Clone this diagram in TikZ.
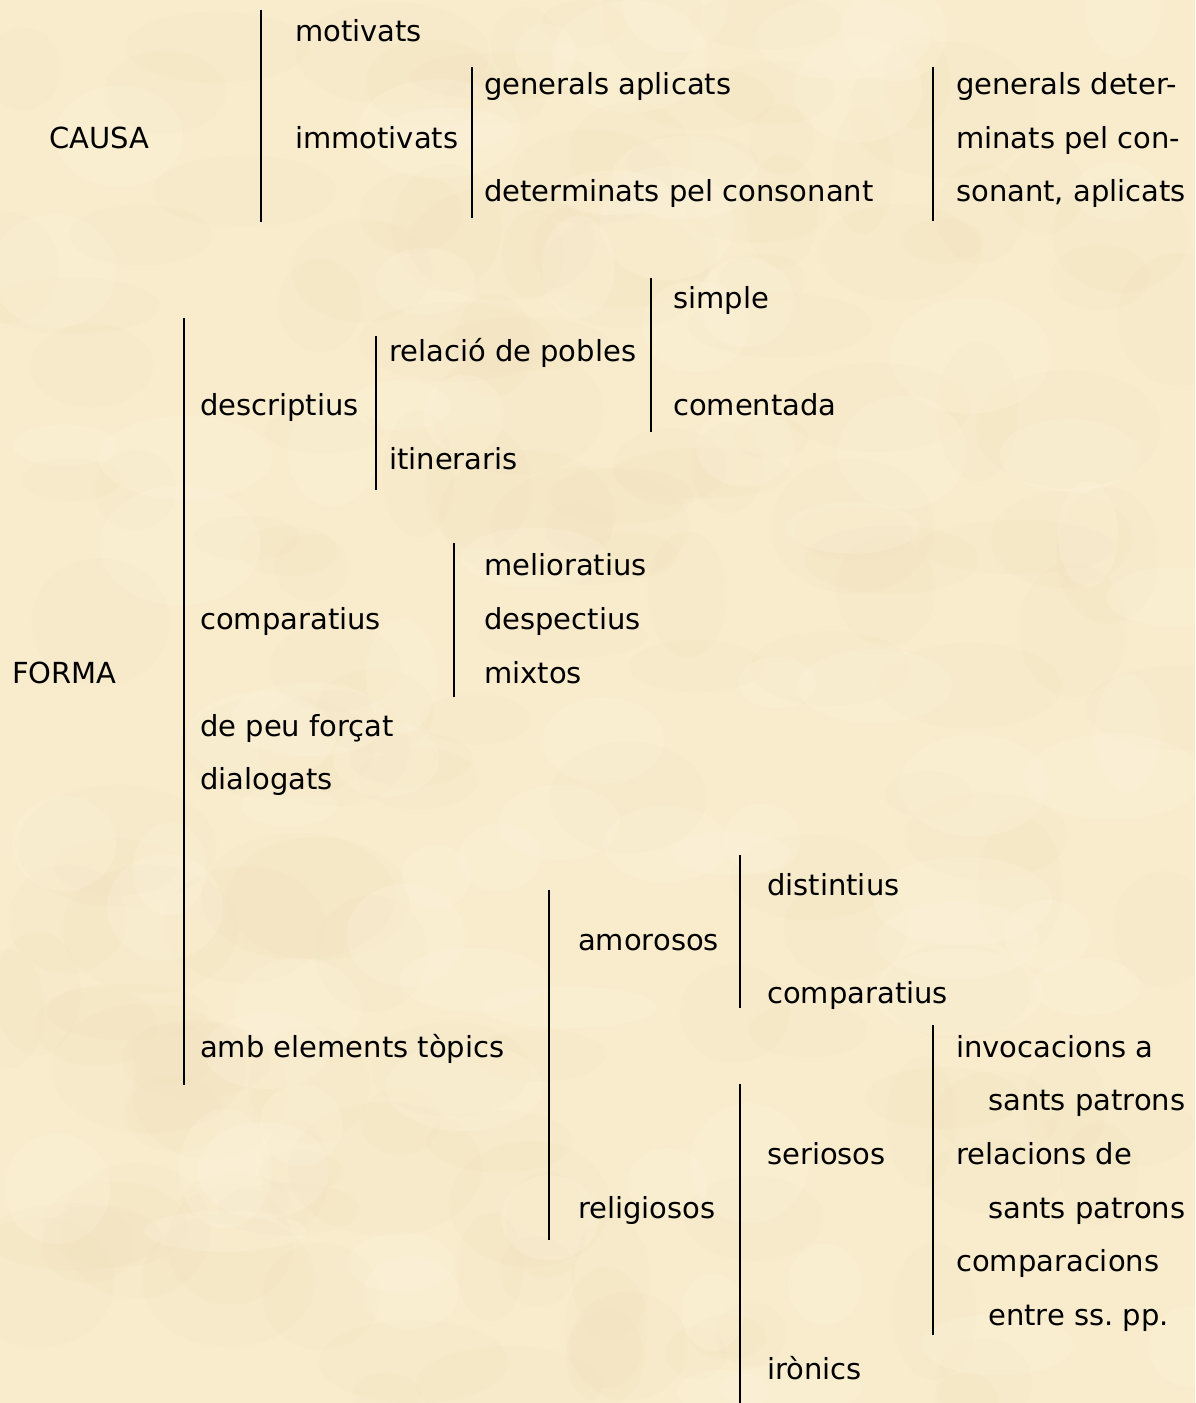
\documentclass[tikz,border=0pt]{standalone}
\usepackage{fontspec}
\setmainfont{DejaVu Sans}
\frenchspacing
\definecolor{parch}{RGB}{249,236,205}
\definecolor{parchdark}{RGB}{238,222,186}
\definecolor{parchlight}{RGB}{253,244,222}
\begin{document}
\begin{tikzpicture}[x=1pt,y=-1pt,
  lbl/.style={anchor=base west, inner sep=0pt, font=\fontsize{29}{35}\selectfont},
  brk/.style={line width=2pt, black}]
\useasboundingbox (0,0) rectangle (1195,1403);
\fill[parch] (0,0) rectangle (1195,1403);
% subtle parchment mottling
\begin{scope}
\clip (0,0) rectangle (1195,1403);
\pgfmathsetseed{7}
\foreach \n in {1,...,160} {
  \pgfmathsetmacro{\px}{rnd*1195}
  \pgfmathsetmacro{\py}{rnd*1403}
  \pgfmathsetmacro{\rw}{30+rnd*70}
  \pgfmathsetmacro{\rh}{20+rnd*50}
  \fill[parchdark, opacity=0.14] (\px,\py) ellipse ({\rw pt} and {\rh pt});
}
\foreach \n in {1,...,80} {
  \pgfmathsetmacro{\px}{rnd*1195}
  \pgfmathsetmacro{\py}{rnd*1403}
  \pgfmathsetmacro{\rw}{30+rnd*60}
  \pgfmathsetmacro{\rh}{20+rnd*40}
  \fill[parchlight, opacity=0.25] (\px,\py) ellipse ({\rw pt} and {\rh pt});
}
\end{scope}
% labels (baseline = visual centre + 10)
\node[lbl] (causa) at (49,148) {CAUSA};
\node[lbl] (motiv) at (295,41) {motivats};
\node[lbl] (immot) at (295,148) {immotivats};
\node[lbl] (genap) at (484,94) {generals aplicats};
\node[lbl] (detcon) at (484,201) {determinats pel consonant};
\node[lbl] (gd1) at (956,94) {generals deter-};
\node[lbl] (gd2) at (956,148) {minats pel con-};
\node[lbl] (gd3) at (956,201) {sonant, aplicats};

\node[lbl] (forma) at (12,683) {FORMA};
\node[lbl] (descr) at (200,415) {descriptius};
\node[lbl] (relac) at (389,361) {relació de pobles};
\node[lbl] (itin) at (389,469) {itineraris};
\node[lbl] (simple) at (673,308) {simple};
\node[lbl] (coment) at (673,415) {comentada};
\node[lbl] (compar) at (200,629) {comparatius};
\node[lbl] (melio) at (484,575) {melioratius};
\node[lbl] (despec) at (484,629) {despectius};
\node[lbl] (mixtos) at (484,683) {mixtos};
\node[lbl] (peu) at (200,736) {de peu forçat};
\node[lbl] (dialog) at (200,789) {dialogats};
\node[lbl] (topics) at (200,1057) {amb elements tòpics};
\node[lbl] (amor) at (578,950) {amorosos};
\node[lbl] (dist) at (767,895) {distintius};
\node[lbl] (compb) at (767,1003) {comparatius};
\node[lbl] (relig) at (578,1218) {religiosos};
\node[lbl] (serios) at (767,1164) {seriosos};
\node[lbl] (ironic) at (767,1379) {irònics};
\node[lbl] (inv1) at (956,1057) {invocacions a};
\node[lbl] (inv2) at (988,1110) {sants patrons};
\node[lbl] (rel1) at (956,1164) {relacions de};
\node[lbl] (rel2) at (988,1218) {sants patrons};
\node[lbl] (cmp1) at (956,1271) {comparacions};
\node[lbl] (cmp2) at (988,1325) {entre ss. pp.};

% bracket lines
\coordinate (a1) at (261,10);   \coordinate (a2) at (261,222);
\coordinate (b1) at (472,67);   \coordinate (b2) at (472,218);
\coordinate (c1) at (933,67);   \coordinate (c2) at (933,221);
\coordinate (d1) at (184,318);  \coordinate (d2) at (184,1085);
\coordinate (e1) at (376,336);  \coordinate (e2) at (376,490);
\coordinate (f1) at (651,278);  \coordinate (f2) at (651,432);
\coordinate (g1) at (454,543);  \coordinate (g2) at (454,697);
\coordinate (h1) at (549,890);  \coordinate (h2) at (549,1240);
\coordinate (i1) at (740,855);  \coordinate (i2) at (740,1008);
\coordinate (j1) at (933,1025); \coordinate (j2) at (933,1335);
\coordinate (k1) at (740,1084); \coordinate (k2) at (740,1403);
\foreach \p in {a,b,c,d,e,f,g,h,i,j,k} \draw[brk] (\p1) -- (\p2);
\end{tikzpicture}
\end{document}
